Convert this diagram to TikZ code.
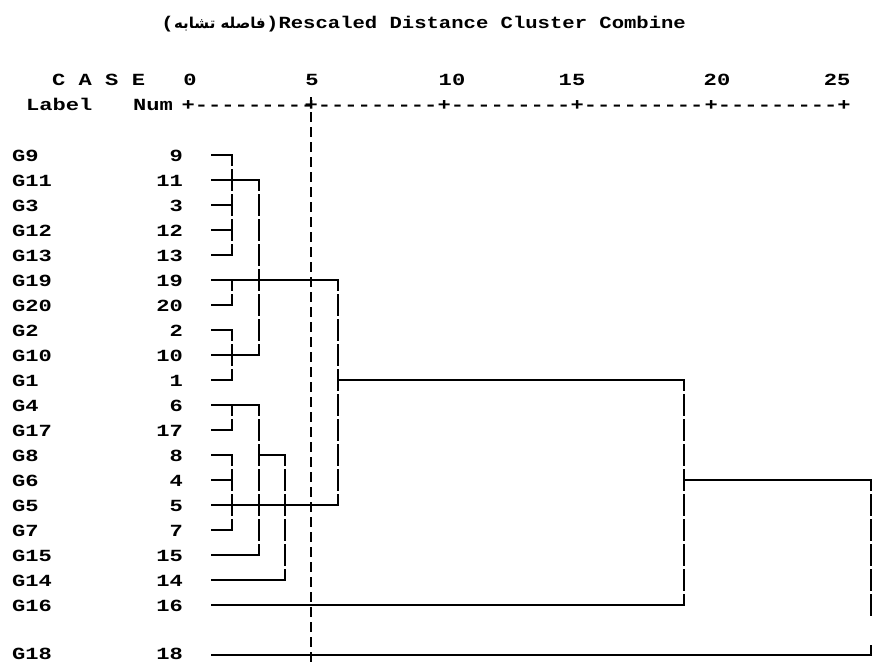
\documentclass[tikz,border=0pt]{standalone}
\usepackage{fontspec}
\TeXXeTstate=1
\newfontfamily\bodyfont[FakeStretch=1.30]{Liberation Mono}
\newfontfamily\ttlfont[FakeStretch=1.21]{Liberation Mono}
\newfontfamily\arabicfont[Script=Arabic]{DejaVu Sans}
\tikzset{
  txt/.style={inner sep=0pt, font=\bodyfont\bfseries\fontsize{17}{17}\selectfont},
  ttl/.style={inner sep=0pt, font=\ttlfont\bfseries\fontsize{17}{17}\selectfont},
  hl/.style={line width=1.4pt, line cap=rect},
  vl/.style={line width=1.4pt, dash pattern=on 21.5pt off 3.5pt, dash phase=11pt},
  cutline/.style={line width=2.6pt, dash pattern=on 10pt off 5pt}
}
\begin{document}
\begin{tikzpicture}[x=1pt,y=-1pt]
\useasboundingbox (0,0) rectangle (872,662);
% title
\node[ttl, anchor=base west] (titleR) at (266,28) {)Rescaled Distance Cluster Combine};
\node[inner sep=0pt, anchor=base east, font=\arabicfont\bfseries\fontsize{15}{15}\selectfont] (titleP) at (titleR.base west) {\beginR فاصله تشابه\endR};
\node[ttl, anchor=base east] (titleL) at (titleP.base west) {(};
% header
\node[txt, anchor=base west] (case) at (52,85) {C A S E};
\node[txt, anchor=base] (t0) at (190,85) {0};
\node[txt, anchor=base] (t5) at (312,85) {5};
\node[txt, anchor=base] (t10) at (452,85) {10};
\node[txt, anchor=base] (t15) at (572,85) {15};
\node[txt, anchor=base] (t20) at (717,85) {20};
\node[txt, anchor=base] (t25) at (837,85) {25};
\node[txt, anchor=base west] (lbl) at (26,110) {Label};
\node[txt, anchor=base west] (numh) at (133,110) {Num};
\foreach \x [count=\k] in {188,311,444,577,711} {
  \node[txt, anchor=base west] (seg\k) at (\x-6.5,110) {+---------};
}
\node[txt, anchor=base] (plusend) at (844,110) {+};
% rows
\foreach \lab/\num/\y [count=\i] in {G9/9/155,G11/11/180,G3/3/205,G12/12/230,G13/13/255,G19/19/280,G20/20/305,G2/2/330,G10/10/355,G1/1/380,G4/6/405,G17/17/430,G8/8/455,G6/4/480,G5/5/505,G7/7/530,G15/15/555,G14/14/580,G16/16/605,G18/18/653} {
  \node[txt, anchor=base west] (lab\i) at (12,\y+6.5) {\lab};
  \node[txt, anchor=base east] (num\i) at (183,\y+6.5) {\num};
}
% horizontal branches
\foreach \y/\xe in {155/232,180/259,205/232,230/232,255/232,280/338,305/232,330/232,355/259,380/232,405/259,430/232,455/232,480/232,505/338,530/232,555/259,580/285,605/684,655/871} {
  \draw[hl] (212,\y) -- (\xe,\y);
}
\draw[hl] (338,380) -- (684,380);
\draw[hl] (259,455) -- (285,455);
\draw[hl] (684,480) -- (871,480);
% vertical joins
\foreach \x/\ya/\yb in {232/155/255,232/280/305,232/330/380,232/405/430,232/455/530,259/180/355,259/405/555,285/455/580,338/280/505,684/380/605,871/480/617} {
  \draw[vl] (\x,\ya) -- (\x,\yb);
}
\draw[line width=1.4pt] (871,645) -- (871,655);
% cut line
\draw[cutline] (311,97) -- (311,662);
\end{tikzpicture}
\end{document}
